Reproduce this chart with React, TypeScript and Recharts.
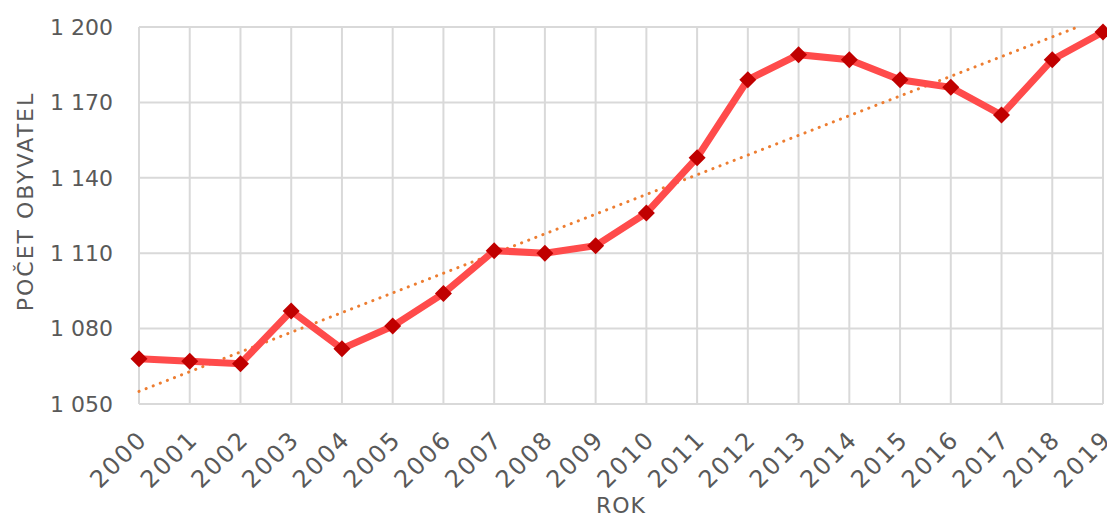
import { LineChart, Line, XAxis, YAxis, CartesianGrid, ReferenceLine } from 'recharts';

const roky = [2000, 2001, 2002, 2003, 2004, 2005, 2006, 2007, 2008, 2009, 2010, 2011, 2012, 2013, 2014, 2015, 2016, 2017, 2018, 2019];
const pocetObyvatel = [1068, 1067, 1066, 1087, 1072, 1081, 1094, 1111, 1110, 1113, 1126, 1148, 1179, 1189, 1187, 1179, 1176, 1165, 1187, 1198];
const yTicks = [1050, 1080, 1110, 1140, 1170, 1200];
// trend line (start / where it leaves the top)
const trendRoky = [2000, 2018.5];
const trendHodnoty = [1055, 1200];

const data = roky.map((rok, i) => ({ rok, pocet: pocetObyvatel[i] }));

const textColor = '#595959';
const font = 'Verdana, "DejaVu Sans", sans-serif';

const Diamond = (props: any) => {
  const { cx, cy } = props;
  if (cx == null || cy == null) return null;
  const s = 8.5;
  return (
    <path
      d={`M${cx},${cy - s}L${cx + s},${cy}L${cx},${cy + s}L${cx - s},${cy}Z`}
      fill='#c00000'
    />
  );
};

const fmt = (v: number) => {
  const s = String(v);
  return s.length > 3 ? s.slice(0, s.length - 3) + ' ' + s.slice(-3) : s;
};

const YLabel = (props: any) => {
  const vb = props.viewBox || {};
  const x = (vb.x || 0) + 25;
  const y = (vb.y || 0) + (vb.height || 0) / 2 - 14;
  return (
    <text
      x={x}
      y={y}
      transform={`rotate(-90, ${x}, ${y})`}
      textAnchor='middle'
      dominantBaseline='central'
      fill={textColor}
      fontSize={22}
      fontFamily={font}
      letterSpacing={2}
    >
      POČET OBYVATEL
    </text>
  );
};

const XTick = (props: any) => {
  const { x, y, payload } = props;
  return (
    <g transform={`translate(${x - 3}, ${y + 16})`}>
      <text
        transform='rotate(-45)'
        textAnchor='end'
        dy='0.75em'
        fill={textColor}
        fontSize={24}
        fontFamily={font}
        letterSpacing={2}
      >
        {payload.value}
      </text>
    </g>
  );
};

const App = () => {
  return (
    <div style={{ position: 'absolute', left: 0, top: 0, background: '#fff' }}>
      <LineChart
        width={1107}
        height={517}
        data={data}
        margin={{ top: 27, right: 4, bottom: 0, left: 0 }}
      >
        <CartesianGrid stroke='#d9d9d9' strokeWidth={2} verticalValues={roky} />
        <XAxis
          dataKey='rok'
          type='number'
          domain={[2000, 2019]}
          ticks={roky}
          interval={0}
          height={113}
          axisLine={{ stroke: '#d9d9d9', strokeWidth: 2 }}
          tickLine={false}
          tick={<XTick />}
          label={{ value: 'ROK', position: 'insideBottom', offset: 4, fill: textColor, fontSize: 22, fontFamily: font, letterSpacing: 1 }}
        />
        <YAxis
          domain={[1050, 1200]}
          ticks={yTicks}
          width={139}
          axisLine={false}
          tickLine={false}
          tickMargin={20}
          tickFormatter={fmt}
          tick={{ fill: textColor, fontSize: 22, fontFamily: font }}
          label={<YLabel />}
        />
        <ReferenceLine
          segment={[
            { x: trendRoky[0], y: trendHodnoty[0] },
            { x: trendRoky[1], y: trendHodnoty[1] },
          ]}
          stroke='#ed7d31'
          strokeWidth={3}
          strokeDasharray='0.1 7.5'
          strokeLinecap='round'
          ifOverflow='visible'
        />
        <Line
          dataKey='pocet'
          stroke='#ff4b4b'
          strokeWidth={7}
          dot={<Diamond />}
          activeDot={false}
          isAnimationActive={false}
        />
      </LineChart>
    </div>
  );
};

export default App;
